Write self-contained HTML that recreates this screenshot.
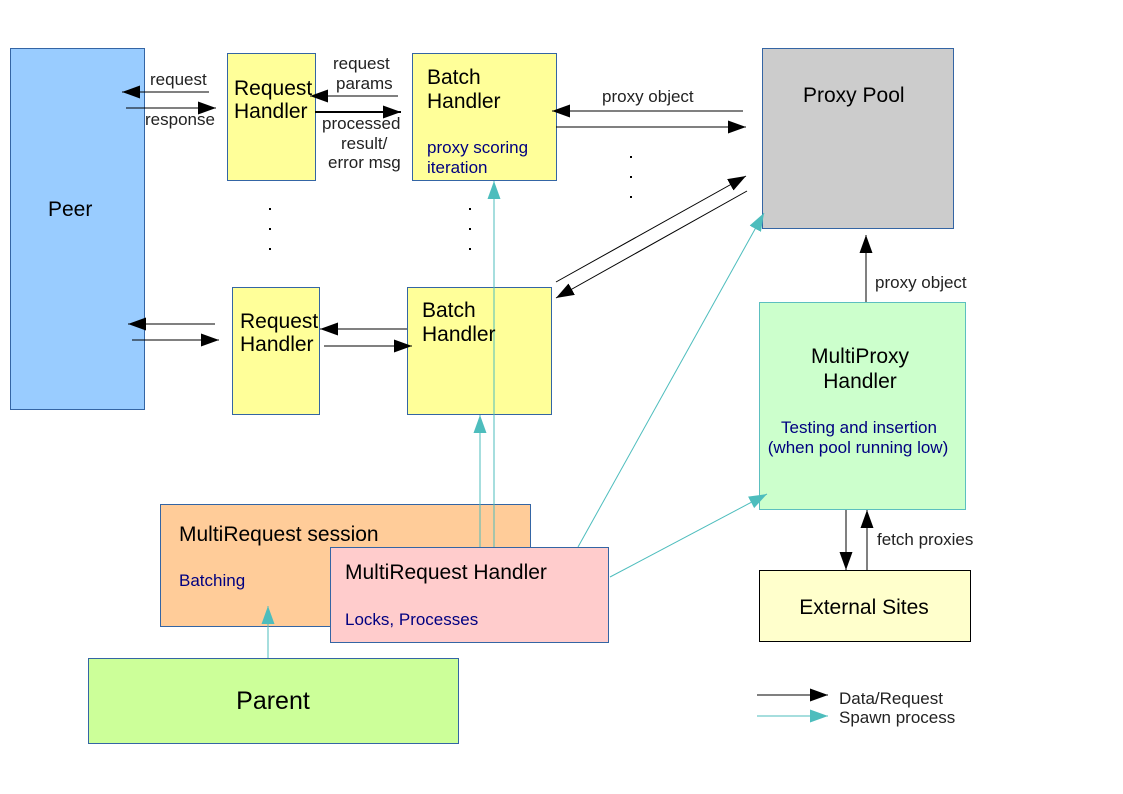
<!DOCTYPE html>
<html><head><meta charset="utf-8"><style>
html,body{margin:0;padding:0;background:#fff}
svg{display:block}
text{font-family:"Liberation Sans",sans-serif}
</style></head><body>
<svg width="1123" height="794" viewBox="0 0 1123 794" xmlns="http://www.w3.org/2000/svg">
<defs>
<marker id="ab" markerUnits="userSpaceOnUse" markerWidth="20" markerHeight="14" refX="18" refY="6.5" orient="auto"><path d="M0,0 L18,6.5 L0,13 z" fill="#000"/></marker>
<marker id="at" markerUnits="userSpaceOnUse" markerWidth="20" markerHeight="14" refX="18" refY="6.5" orient="auto"><path d="M0,0 L18,6.5 L0,13 z" fill="#4dbdbd"/></marker>
</defs>
<g stroke="#3465a4" stroke-width="1">
<rect x="10.5" y="48.5" width="134" height="361" fill="#99ccff"/>
<rect x="227.5" y="53.5" width="88" height="127" fill="#ffff99"/>
<rect x="412.5" y="53.5" width="144" height="127" fill="#ffff99"/>
<rect x="762.5" y="48.5" width="191" height="180" fill="#cccccc"/>
<rect x="232.5" y="287.5" width="87" height="127" fill="#ffff99"/>
<rect x="407.5" y="287.5" width="144" height="127" fill="#ffff99"/>
<rect x="759.5" y="302.5" width="206" height="207" fill="#ccffcc" stroke="#5cbfbf"/>
<rect x="160.5" y="504.5" width="370" height="122" fill="#ffcc99"/>
<rect x="88.5" y="658.5" width="370" height="85" fill="#ccff99"/>
<rect x="759.5" y="570.5" width="211" height="71" fill="#ffffcc" stroke="#000"/>
</g>
<g stroke="#4dbdbd" stroke-width="1" fill="none">
<line x1="268" y1="658" x2="268" y2="606" marker-end="url(#at)"/>
<line x1="480" y1="547" x2="480" y2="415" marker-end="url(#at)"/>
<line x1="494" y1="547" x2="494" y2="181" marker-end="url(#at)"/>
<line x1="578" y1="547" x2="764" y2="213" marker-end="url(#at)"/>
<line x1="610" y1="577" x2="767" y2="494" marker-end="url(#at)"/>
<line x1="757" y1="716" x2="828" y2="716" marker-end="url(#at)"/>
</g>
<rect x="330.5" y="547.5" width="278" height="95" fill="#ffcccc" stroke="#3465a4"/>
<g stroke="#000" stroke-width="1" fill="none">
<line x1="209" y1="92" x2="122" y2="92" marker-end="url(#ab)"/>
<line x1="126" y1="108" x2="216" y2="108" marker-end="url(#ab)"/>
<line x1="398" y1="96" x2="310" y2="96" marker-end="url(#ab)"/>
<line x1="315" y1="112" x2="401" y2="112" stroke-width="2" marker-end="url(#ab)"/>
<line x1="743" y1="111" x2="552" y2="111" marker-end="url(#ab)"/>
<line x1="556" y1="127" x2="746" y2="127" marker-end="url(#ab)"/>
<line x1="556" y1="282" x2="746" y2="176" marker-end="url(#ab)"/>
<line x1="747" y1="191" x2="556" y2="298" marker-end="url(#ab)"/>
<line x1="215" y1="324" x2="128" y2="324" marker-end="url(#ab)"/>
<line x1="132" y1="340" x2="219" y2="340" marker-end="url(#ab)"/>
<line x1="407" y1="329" x2="320" y2="329" marker-end="url(#ab)"/>
<line x1="324" y1="346" x2="412" y2="346" marker-end="url(#ab)"/>
<line x1="866" y1="302" x2="866" y2="235" marker-end="url(#ab)"/>
<line x1="846" y1="510" x2="846" y2="570" marker-end="url(#ab)"/>
<line x1="867" y1="570" x2="867" y2="510" marker-end="url(#ab)"/>
<line x1="757" y1="695" x2="828" y2="695" marker-end="url(#ab)"/>
</g>
<g fill="#000">
<rect x="269" y="208" width="2" height="2"/><rect x="269" y="228" width="2" height="2"/><rect x="269" y="248" width="2" height="2"/>
<rect x="469" y="208" width="2" height="2"/><rect x="469" y="228" width="2" height="2"/><rect x="469" y="248" width="2" height="2"/>
<rect x="630" y="156" width="2" height="2"/><rect x="630" y="176" width="2" height="2"/><rect x="630" y="196" width="2" height="2"/>
</g>
<g fill="#000" font-size="21">
<text x="48" y="216">Peer</text>
<text x="234" y="95">Request</text><text x="234" y="118">Handler</text>
<text x="427" y="84">Batch</text><text x="427" y="108">Handler</text>
<text x="803" y="102">Proxy Pool</text>
<text x="240" y="328">Request</text><text x="240" y="351">Handler</text>
<text x="422" y="317">Batch</text><text x="422" y="341">Handler</text>
<text x="860" y="363" text-anchor="middle">MultiProxy</text>
<text x="860" y="388" text-anchor="middle">Handler</text>
<text x="179" y="541">MultiRequest session</text>
<text x="345" y="579">MultiRequest Handler</text>
<text x="864" y="614" text-anchor="middle">External Sites</text>
<text x="273" y="709" text-anchor="middle" font-size="25">Parent</text>
</g>
<g fill="#000080" font-size="17">
<text x="427" y="153">proxy scoring</text><text x="427" y="173">iteration</text>
<text x="859" y="433" text-anchor="middle">Testing and insertion</text>
<text x="858" y="453" text-anchor="middle">(when pool running low)</text>
<text x="179" y="586">Batching</text>
<text x="345" y="625">Locks, Processes</text>
</g>
<g fill="#222" font-size="17">
<text x="150" y="85">request</text>
<text x="145" y="125">response</text>
<text x="333" y="69">request</text>
<text x="336" y="89">params</text>
<text x="322" y="129">processed</text>
<text x="341" y="149">result/</text>
<text x="328" y="168">error msg</text>
<text x="602" y="102">proxy object</text>
<text x="875" y="288">proxy object</text>
<text x="877" y="545">fetch proxies</text>
<text x="839" y="704">Data/Request</text>
<text x="839" y="723">Spawn process</text>
</g>
</svg>
</body></html>
